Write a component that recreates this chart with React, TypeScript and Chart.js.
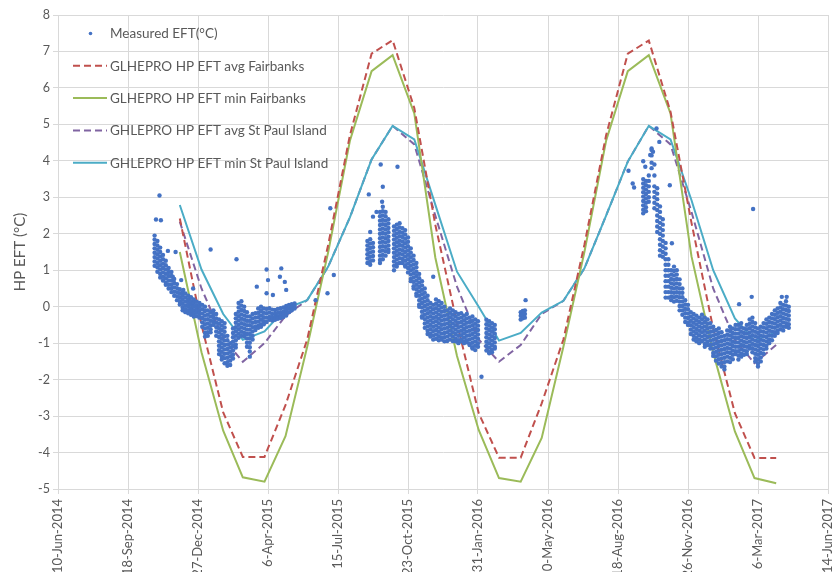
import React, { useEffect, useRef } from 'react';
import { Chart, registerables } from 'chart.js';

Chart.register(...registerables);

// ---- X axis (Excel date serials) ----
const xMin = 41800;
const xMax = 42900;
const xStep = 100;
const monthNames = ['Jan', 'Feb', 'Mar', 'Apr', 'May', 'Jun', 'Jul', 'Aug', 'Sep', 'Oct', 'Nov', 'Dec'];

// ---- Y axis ----
const yMin = -5;
const yMax = 8;
const yTitle = 'HP EFT (°C)';

// ---- Monthly GLHEPRO simulation dates (1st of month, Dec-2014 .. Apr-2017) ----
const monthDays = [
  41974, 42005, 42036, 42064, 42095, 42125, 42156, 42186, 42217, 42248, 42278, 42309,
  42339, 42370, 42401, 42430, 42461, 42491, 42522, 42552, 42583, 42614, 42644, 42675,
  42705, 42736, 42767, 42795, 42826,
];

const avgFairbanks = [
  2.42, -0.5, -2.9, -4.12, -4.12, -2.7, -0.9, 1.7, 4.7, 6.94, 7.31, 5.45,
  2.25, -0.45, -2.92, -4.14, -4.14, -2.65, -0.9, 1.7, 4.7, 6.94, 7.3, 5.35,
  2.3, -0.6, -2.92, -4.15, -4.15,
];
const minFairbanks = [
  1.5, -1.25, -3.4, -4.68, -4.8, -3.55, -1.1, 1.5, 4.55, 6.46, 6.9, 5.3,
  1.35, -1.35, -3.38, -4.7, -4.8, -3.6, -1.1, 1.5, 4.55, 6.46, 6.9, 5.3,
  1.38, -1.26, -3.42, -4.7, -4.84,
];
const avgStPaul = [
  2.33, 0.5, -0.87, -1.51, -1.0, -0.25, 0.18, 1.1, 2.45, 4.04, 4.96, 4.45,
  2.5, 0.55, -0.9, -1.51, -1.05, -0.2, 0.16, 1.05, 2.5, 3.98, 4.96, 4.45,
  2.6, 0.5, -0.91, -1.55, -1.05,
];
const minStPaul = [
  2.79, 1.02, -0.2, -0.91, -0.68, -0.05, 0.18, 1.1, 2.45, 4.04, 4.96, 4.59,
  2.8, 0.96, 0.0, -0.93, -0.72, -0.16, 0.16, 1.05, 2.5, 3.98, 4.96, 4.59,
  2.92, 1.0, -0.32, -0.93, -0.7,
];

// ---- Measured EFT: date columns with the readings seen on each date ----
const measuredDays1 = [
  41938, 41942, 41946, 41950, 41954, 41958, 41962, 41966, 41970, 41974, 41978, 41982,
  41986, 41990, 41994, 41998, 42002, 42006, 42010, 42014, 42018, 42022, 42026, 42030,
  42034, 42038, 42042, 42046, 42050, 42054, 42058, 42062, 42066, 42070, 42074, 42078,
  42082, 42086, 42090, 42094, 42098, 42102, 42106, 42110, 42114, 42118, 42122, 42126,
  42130, 42134, 42138,
];
const measuredVals1 = [
  [1.95, 1.84, 1.72, 1.6, 1.48, 1.36, 1.24, 1.12],
  [1.8, 1.68, 1.56, 1.44, 1.32, 1.2, 1.08, 0.96],
  [1.62, 1.5, 1.38, 1.26, 1.14, 1.02, 0.9, 0.8],
  [1.42, 1.3, 1.18, 1.06, 0.94, 0.82, 0.72],
  [1.26, 1.14, 1.02, 0.9, 0.78, 0.66, 0.6],
  [1.06, 0.95, 0.84, 0.72, 0.6, 0.5],
  [0.95, 0.84, 0.72, 0.6, 0.5, 0.4],
  [0.76, 0.65, 0.53, 0.41, 0.3],
  [0.62, 0.51, 0.4, 0.29, 0.18],
  [0.48, 0.37, 0.26, 0.15, 0.06],
  [0.4, 0.3, 0.19, 0.08, -0.02, -0.1],
  [0.36, 0.25, 0.14, 0.03, -0.07, -0.15],
  [0.3, 0.2, 0.1, 0, -0.1, -0.18],
  [0.26, 0.15, 0.05, -0.05, -0.14, -0.22],
  [0.2, 0.1, 0, -0.1, -0.2, -0.27],
  [0.14, 0.04, -0.06, -0.16, -0.26],
  [0.1, 0, -0.1, -0.2, -0.3],
  [0.05, -0.07, -0.19, -0.31, -0.43, -0.55],
  [0, -0.12, -0.24, -0.36, -0.48, -0.6, -0.72, -0.82],
  [-0.1, -0.22, -0.34, -0.46, -0.58, -0.7, -0.8],
  [-0.15, -0.27, -0.39, -0.51, -0.62, -0.7],
  [-0.1, -0.2, -0.3, -0.4, -0.5],
  [-0.2, -0.32, -0.44, -0.56, -0.68, -0.8],
  [-0.35, -0.47, -0.59, -0.71, -0.83, -0.95, -1.07, -1.19, -1.3],
  [-0.4, -0.52, -0.64, -0.76, -0.88, -1.0, -1.12, -1.24, -1.36, -1.45],
  [-0.45, -0.57, -0.69, -0.81, -0.93, -1.05, -1.17, -1.29, -1.41, -1.55],
  [-0.8, -0.92, -1.04, -1.16, -1.28, -1.4, -1.52, -1.62],
  [-1.0, -1.12, -1.24, -1.36, -1.48, -1.6],
  [-0.6, -0.72, -0.84, -0.96, -1.08, -1.2, -1.32, -1.42],
  [-0.2, -0.32, -0.44, -0.56, -0.68, -0.8, -0.92, -1.04, -1.12],
  [0.1, -0.02, -0.14, -0.26, -0.38, -0.5, -0.62, -0.74, -0.85],
  [0.15, 0.03, -0.09, -0.21, -0.33, -0.45, -0.57, -0.69, -0.8],
  [0, -0.12, -0.24, -0.36, -0.48, -0.6, -0.72, -0.82],
  [-0.15, -0.27, -0.39, -0.51, -0.63, -0.75, -0.87, -0.99, -1.1],
  [-0.27, -0.39, -0.51, -0.63, -0.75, -0.87, -0.99, -1.11, -1.23, -1.37],
  [-0.2, -0.32, -0.44, -0.56, -0.68, -0.8, -0.9],
  [-0.18, -0.3, -0.42, -0.54, -0.64],
  [-0.05, -0.17, -0.29, -0.41, -0.52, -0.58],
  [0, -0.12, -0.24, -0.36, -0.48, -0.55],
  [-0.05, -0.17, -0.29, -0.4, -0.48],
  [-0.06, -0.18, -0.3, -0.42],
  [-0.04, -0.16, -0.28, -0.36],
  [-0.08, -0.2, -0.3, -0.38],
  [-0.09, -0.2, -0.3, -0.36],
  [-0.06, -0.17, -0.27, -0.33],
  [-0.04, -0.15, -0.25, -0.31],
  [-0.02, -0.13, -0.22, -0.28],
  [0.02, -0.09, -0.18, -0.24],
  [0.05, -0.05, -0.15],
  [0.07, -0.02, -0.1],
  [0.09, 0.02, -0.05],
];

const measuredDays2 = [
  42242, 42246, 42250, 42260, 42264, 42268, 42272, 42280, 42284, 42288, 42292, 42296,
  42300, 42304, 42308, 42312, 42316, 42320, 42324, 42328, 42332, 42336, 42340, 42344,
  42348, 42352, 42356, 42360, 42364, 42368, 42372, 42376, 42380, 42384, 42388, 42392,
  42396, 42400, 42412, 42416, 42420, 42424, 42461, 42464, 42467,
];
const measuredVals2 = [
  [1.8, 1.68, 1.56, 1.44, 1.32, 1.2],
  [1.85, 1.73, 1.61, 1.49, 1.37, 1.25, 1.15],
  [1.75, 1.63, 1.51, 1.39, 1.27],
  [2.6, 2.48, 2.36, 2.24, 2.12, 2.0, 1.88, 1.76, 1.64, 1.52, 1.4, 1.28, 1.2],
  [2.74, 2.62, 2.5, 2.38, 2.26, 2.14, 2.02, 1.9, 1.78, 1.66, 1.54, 1.42, 1.3],
  [2.6, 2.48, 2.36, 2.24, 2.12, 2.0, 1.88, 1.76, 1.64, 1.52, 1.4],
  [2.4, 2.28, 2.16, 2.04, 1.92, 1.8, 1.68, 1.56, 1.5],
  [2.2, 2.08, 1.96, 1.84, 1.72, 1.6, 1.48, 1.36, 1.24, 1.12, 1.0],
  [2.25, 2.13, 2.01, 1.89, 1.77, 1.65, 1.53, 1.41, 1.29, 1.17, 1.1],
  [2.29, 2.17, 2.05, 1.93, 1.81, 1.69, 1.57, 1.45, 1.33, 1.2],
  [2.15, 2.03, 1.91, 1.79, 1.67, 1.55, 1.43, 1.31, 1.2],
  [2.1, 1.98, 1.86, 1.74, 1.62, 1.5, 1.38, 1.26, 1.14, 1.1],
  [1.9, 1.78, 1.66, 1.54, 1.42, 1.3, 1.18, 1.06, 0.94],
  [1.6, 1.48, 1.36, 1.24, 1.12, 1.0, 0.88, 0.76, 0.7],
  [1.4, 1.28, 1.16, 1.04, 0.92, 0.8, 0.68, 0.56, 0.5],
  [1.2, 1.08, 0.96, 0.84, 0.72, 0.6, 0.48, 0.36, 0.3],
  [0.9, 0.78, 0.66, 0.54, 0.42, 0.3, 0.18, 0.06, 0],
  [0.7, 0.58, 0.46, 0.34, 0.22, 0.1, -0.02, -0.14, -0.26, -0.3],
  [0.5, 0.38, 0.26, 0.14, 0.02, -0.1, -0.22, -0.34, -0.46, -0.58],
  [0.3, 0.18, 0.06, -0.06, -0.18, -0.3, -0.42, -0.54, -0.66, -0.75],
  [0.1, -0.02, -0.14, -0.26, -0.38, -0.5, -0.62, -0.74, -0.82],
  [0.05, -0.07, -0.19, -0.31, -0.43, -0.55, -0.67, -0.79, -0.9],
  [0.2, 0.08, -0.04, -0.16, -0.28, -0.4, -0.52, -0.64, -0.76, -0.88],
  [0.15, 0.03, -0.09, -0.21, -0.33, -0.45, -0.57, -0.69, -0.81, -0.92],
  [0.1, -0.02, -0.14, -0.26, -0.38, -0.5, -0.62, -0.74, -0.86, -0.9],
  [0, -0.12, -0.24, -0.36, -0.48, -0.6, -0.72, -0.84, -0.95],
  [-0.1, -0.22, -0.34, -0.46, -0.58, -0.7, -0.82, -0.94],
  [-0.05, -0.17, -0.29, -0.41, -0.53, -0.65, -0.77, -0.9],
  [-0.1, -0.22, -0.34, -0.46, -0.58, -0.7, -0.82, -0.94],
  [-0.15, -0.27, -0.39, -0.51, -0.63, -0.75, -0.87, -0.95],
  [-0.2, -0.32, -0.44, -0.56, -0.68, -0.8, -0.92, -1.0],
  [-0.18, -0.3, -0.42, -0.54, -0.66, -0.78, -0.9, -0.95],
  [-0.25, -0.37, -0.49, -0.61, -0.73, -0.85, -0.97, -1.0],
  [-0.2, -0.32, -0.44, -0.56, -0.68, -0.8, -0.92, -0.98],
  [-0.3, -0.42, -0.54, -0.66, -0.78, -0.9, -1.02, -1.05],
  [-0.27, -0.39, -0.51, -0.63, -0.75, -0.87, -0.99, -1.11, -1.15],
  [-0.35, -0.47, -0.59, -0.71, -0.83, -0.95, -1.07, -1.19],
  [-0.4, -0.52, -0.64, -0.76, -0.88, -1.0, -1.1],
  [-0.36, -0.48, -0.6, -0.72, -0.84, -0.96, -1.08, -1.2],
  [-0.4, -0.52, -0.64, -0.76, -0.88, -1.0, -1.12, -1.24, -1.28],
  [-0.45, -0.57, -0.69, -0.81, -0.93, -1.05, -1.17, -1.25],
  [-0.5, -0.62, -0.74, -0.86, -0.98, -1.1, -1.15],
  [-0.15, -0.25, -0.35],
  [-0.12, -0.22, -0.32],
  [-0.1, -0.2, -0.3],
];

const measuredDays3 = [
  42636, 42640, 42644, 42648, 42652, 42656, 42660, 42664, 42668, 42672, 42676, 42680,
  42684, 42688, 42692, 42696, 42700, 42704, 42708, 42712, 42716, 42720, 42724, 42728,
  42732, 42736, 42740, 42744, 42748, 42752, 42756, 42760, 42764, 42768, 42772, 42776,
  42780, 42784, 42788, 42792, 42796, 42800, 42804, 42808, 42812, 42816, 42820, 42824,
  42828, 42832, 42836, 42840, 42844,
];
const measuredVals3 = [
  [3.5, 3.38, 3.26, 3.14, 3.02, 2.9, 2.78, 2.66, 2.56],
  [3.45, 3.33, 3.21, 3.09, 2.97, 2.85, 2.73, 2.62],
  [3.6, 3.45, 3.3, 3.15, 3.0, 2.88],
  [4.3, 4.15, 3.95, 3.8],
  [3.9, 3.6, 3.3, 3.15, 3.0, 2.85, 2.7],
  [3.25, 3.1, 2.95, 2.8, 2.65, 2.5, 2.35, 2.2, 2.05],
  [2.75, 2.6, 2.45, 2.3, 2.15, 2.0, 1.85, 1.7, 1.55, 1.4],
  [2.4, 2.25, 2.1, 1.95, 1.8, 1.65, 1.5, 1.37],
  [1.75, 1.6, 1.45, 1.3, 1.15, 1.0, 0.85, 0.7, 0.55, 0.4, 0.25],
  [1.3, 1.15, 1.0, 0.85, 0.7, 0.55, 0.4, 0.25],
  [1.0, 0.88, 0.76, 0.64, 0.52, 0.4, 0.28, 0.18],
  [1.1, 0.98, 0.86, 0.74, 0.62, 0.5, 0.38, 0.26, 0.14],
  [1.0, 0.88, 0.76, 0.64, 0.52, 0.4, 0.28, 0.16],
  [0.75, 0.62, 0.5, 0.38, 0.26, 0.14, 0.02, -0.1],
  [0.5, 0.38, 0.26, 0.14, 0.02, -0.1, -0.22],
  [0.18, 0.06, -0.06, -0.18, -0.3, -0.42],
  [0.05, -0.07, -0.19, -0.31, -0.43, -0.5],
  [-0.15, -0.27, -0.39, -0.51, -0.63, -0.75],
  [-0.2, -0.32, -0.44, -0.56, -0.68, -0.8, -0.9],
  [-0.25, -0.37, -0.49, -0.61, -0.73, -0.85, -0.95],
  [-0.3, -0.42, -0.54, -0.66, -0.78, -0.9, -1.0],
  [-0.22, -0.34, -0.46, -0.58, -0.7, -0.82, -0.94],
  [-0.3, -0.42, -0.54, -0.66, -0.78, -0.9, -1.02, -1.1],
  [-0.35, -0.47, -0.59, -0.71, -0.83, -0.95, -1.05],
  [-0.45, -0.57, -0.69, -0.81, -0.93, -1.05, -1.15],
  [-0.55, -0.67, -0.79, -0.91, -1.03, -1.15, -1.27, -1.35],
  [-0.64, -0.76, -0.88, -1.0, -1.12, -1.24, -1.36, -1.48],
  [-0.6, -0.72, -0.84, -0.96, -1.08, -1.2, -1.32, -1.44, -1.56],
  [-0.7, -0.82, -0.94, -1.06, -1.18, -1.3, -1.42, -1.54, -1.64],
  [-0.8, -0.92, -1.04, -1.16, -1.28, -1.4, -1.52, -1.64, -1.72],
  [-0.65, -0.77, -0.89, -1.01, -1.13, -1.25, -1.37, -1.5],
  [-0.55, -0.67, -0.79, -0.91, -1.03, -1.15, -1.27, -1.4, -1.52],
  [-0.6, -0.72, -0.84, -0.96, -1.08, -1.2, -1.32, -1.44],
  [-0.5, -0.62, -0.74, -0.86, -0.98, -1.1, -1.22, -1.3],
  [-0.5, -0.62, -0.74, -0.86, -0.98, -1.1, -1.22, -1.34, -1.45],
  [-0.45, -0.57, -0.69, -0.81, -0.93, -1.05, -1.17, -1.29, -1.37],
  [-0.6, -0.72, -0.84, -0.96, -1.08, -1.2, -1.32],
  [-0.5, -0.62, -0.74, -0.86, -0.98, -1.1, -1.22, -1.3],
  [-0.35, -0.47, -0.59, -0.71, -0.83, -0.95, -1.07, -1.15],
  [-0.3, -0.42, -0.54, -0.66, -0.78, -0.9, -1.02, -1.14, -1.25],
  [-0.45, -0.57, -0.69, -0.81, -0.93, -1.05, -1.17, -1.29, -1.41, -1.5],
  [-0.6, -0.72, -0.84, -0.96, -1.08, -1.2, -1.32, -1.44, -1.56, -1.64],
  [-0.55, -0.67, -0.79, -0.91, -1.03, -1.15, -1.27, -1.39, -1.5],
  [-0.45, -0.57, -0.69, -0.81, -0.93, -1.05, -1.17, -1.29],
  [-0.35, -0.47, -0.59, -0.71, -0.83, -0.95, -1.07, -1.15],
  [-0.3, -0.42, -0.54, -0.66, -0.78, -0.9, -1.0],
  [-0.2, -0.32, -0.44, -0.56, -0.68, -0.8, -0.92],
  [-0.1, -0.22, -0.34, -0.46, -0.58, -0.7, -0.8],
  [-0.05, -0.17, -0.29, -0.41, -0.53, -0.65, -0.72],
  [0.1, -0.02, -0.14, -0.26, -0.38, -0.5, -0.62],
  [0.05, -0.07, -0.19, -0.31, -0.43, -0.55, -0.65],
  [0.15, 0.03, -0.09, -0.21, -0.33, -0.45, -0.55],
  [0.0, -0.12, -0.24, -0.36, -0.48, -0.58],
];

// isolated measured readings [date serial, value]
const measuredOutliers = [
  [41945, 3.05], [41940, 2.39], [41947, 2.37], [41957, 1.53], [41968, 1.5], [41964, 0.82],
  [41976, 0.73], [41979, 0.46], [41993, 0.5], [42018, 1.57], [42055, 1.3], [42084, 0.55],
  [42098, 1.02], [42100, 0.73], [42119, 1.05], [42117, 0.82], [42124, 0.68], [42098, 0.37],
  [42107, 0.32], [42126, 0.46], [42168, 0.18], [42189, 2.7], [42194, 0.87], [42185, 0.37],
  [42244, 3.08], [42261, 3.9], [42285, 3.84], [42264, 3.29], [42263, 2.88], [42250, 2.47],
  [42255, 2.6], [42246, 2.05], [42336, 0.82], [42405, -1.92], [42468, 0.18],
  [42615, 3.73], [42621, 3.38], [42623, 3.27], [42636, 3.99], [42639, 3.84], [42648, 4.34],
  [42650, 4.25], [42655, 4.89], [42659, 4.52], [42646, 4.16], [42674, 3.33], [42677, 1.74],
  [42793, 2.68], [42791, 0.27], [42773, 0.07], [42834, 0.27], [42841, 0.27],
];

// ---- Legend ----
const legendLabels = [
  'Measured EFT(°C)',
  'GLHEPRO HP EFT avg Fairbanks',
  'GLHEPRO HP EFT min Fairbanks',
  'GHLEPRO HP EFT avg St Paul Island',
  'GHLEPRO HP EFT min St Paul Island',
];

const COLORS = {
  measured: '#4472C4',
  avgFairbanks: '#C0504D',
  minFairbanks: '#9BBB59',
  avgStPaul: '#8064A2',
  minStPaul: '#4BACC6',
  text: '#595959',
  grid: '#D9D9D9',
};
const FONT = 'Lato, "Open Sans", sans-serif';

function serialLabel(s: number): string {
  const d = new Date(Date.UTC(1899, 11, 30) + s * 86400000);
  return `${d.getUTCDate()}-${monthNames[d.getUTCMonth()]}-${d.getUTCFullYear()}`;
}

function buildMeasured() {
  const pts: { x: number; y: number }[] = [];
  const add = (days: number[], vals: number[][]) => {
    days.forEach((d, i) => vals[i].forEach((v) => pts.push({ x: d, y: v })));
  };
  add(measuredDays1, measuredVals1);
  add(measuredDays2, measuredVals2);
  add(measuredDays3, measuredVals3);
  measuredOutliers.forEach(([d, v]) => pts.push({ x: d, y: v }));
  return pts;
}

function series(vals: number[]) {
  return monthDays.map((d, i) => ({ x: d, y: vals[i] }));
}

const legendPlugin = {
  id: 'insideLegend',
  afterDraw(chart: any) {
    const ctx = chart.ctx;
    ctx.save();
    ctx.font = `13.5px ${FONT}`;
    ctx.textBaseline = 'middle';
    const styles = [
      { color: COLORS.measured, dash: null, dot: true },
      { color: COLORS.avgFairbanks, dash: [7, 4], dot: false },
      { color: COLORS.minFairbanks, dash: [], dot: false },
      { color: COLORS.avgStPaul, dash: [7, 4], dot: false },
      { color: COLORS.minStPaul, dash: [], dot: false },
    ];
    legendLabels.forEach((label, i) => {
      const y = 33.5 + i * 32.3;
      const st = styles[i];
      if (st.dot) {
        ctx.fillStyle = st.color;
        ctx.beginPath();
        ctx.arc(90.5, y, 1.8, 0, Math.PI * 2);
        ctx.fill();
      } else {
        ctx.strokeStyle = st.color;
        ctx.lineWidth = 2;
        ctx.setLineDash(st.dash as number[]);
        ctx.beginPath();
        ctx.moveTo(73, y);
        ctx.lineTo(107, y);
        ctx.stroke();
        ctx.setLineDash([]);
      }
      ctx.fillStyle = COLORS.text;
      ctx.fillText(label, 110, y + 0.5);
    });
    ctx.restore();
  },
};

export default function App() {
  const canvasRef = useRef<HTMLCanvasElement | null>(null);

  useEffect(() => {
    if (!canvasRef.current) return;
    const lineDs = (label: string, vals: number[], color: string, dashed: boolean, order: number) => ({
      type: 'scatter' as const,
      label,
      data: series(vals),
      showLine: true,
      borderColor: color,
      backgroundColor: color,
      borderWidth: 2,
      borderDash: dashed ? [7, 4] : [],
      pointRadius: 0,
      pointHoverRadius: 0,
      tension: 0,
      fill: false,
      order,
    });

    const chart = new Chart(canvasRef.current, {
      type: 'scatter',
      data: {
        datasets: [
          {
            label: legendLabels[0],
            data: buildMeasured(),
            backgroundColor: COLORS.measured,
            borderColor: COLORS.measured,
            borderWidth: 0,
            pointRadius: 2.2,
            showLine: false,
            order: 0,
          },
          lineDs(legendLabels[1], avgFairbanks, COLORS.avgFairbanks, true, 1),
          lineDs(legendLabels[2], minFairbanks, COLORS.minFairbanks, false, 2),
          lineDs(legendLabels[3], avgStPaul, COLORS.avgStPaul, true, 4),
          lineDs(legendLabels[4], minStPaul, COLORS.minStPaul, false, 3),
        ] as any,
      },
      options: {
        animation: false,
        responsive: true,
        maintainAspectRatio: false,
        layout: { padding: { top: 15, right: 5, left: 0, bottom: 0 } },
        plugins: {
          legend: { display: false },
          tooltip: { enabled: false },
        },
        scales: {
          x: {
            type: 'linear',
            min: xMin,
            max: xMax,
            grid: { color: COLORS.grid, lineWidth: 1, tickLength: 5, tickColor: COLORS.grid },
            border: { color: COLORS.grid, width: 1 },
            ticks: {
              stepSize: xStep,
              autoSkip: false,
              minRotation: 90,
              maxRotation: 90,
              padding: 5,
              color: COLORS.text,
              font: { family: FONT, size: 13 },
              callback: (v: any) => serialLabel(Number(v)),
            },
            afterFit: (scale: any) => {
              scale.height = 83;
              scale.paddingLeft = 0;
              scale.paddingRight = 0;
            },
          },
          y: {
            type: 'linear',
            min: yMin,
            max: yMax,
            grid: { color: COLORS.grid, lineWidth: 1, tickLength: 5, tickColor: COLORS.grid },
            border: { color: COLORS.grid, width: 1 },
            ticks: {
              stepSize: 1,
              padding: 3,
              color: COLORS.text,
              font: { family: FONT, size: 12.5 },
            },
            title: {
              display: true,
              text: yTitle,
              color: COLORS.text,
              font: { family: FONT, size: 15 },
              padding: { top: 11, bottom: 0 },
            },
            afterFit: (scale: any) => {
              scale.width = 58;
            },
          },
        },
      } as any,
      plugins: [legendPlugin],
    });
    return () => chart.destroy();
  }, []);

  return (
    <div style={{ position: 'absolute', left: 0, top: 0, width: 833, height: 572, background: '#fff' }}>
      <canvas ref={canvasRef} />
    </div>
  );
}
